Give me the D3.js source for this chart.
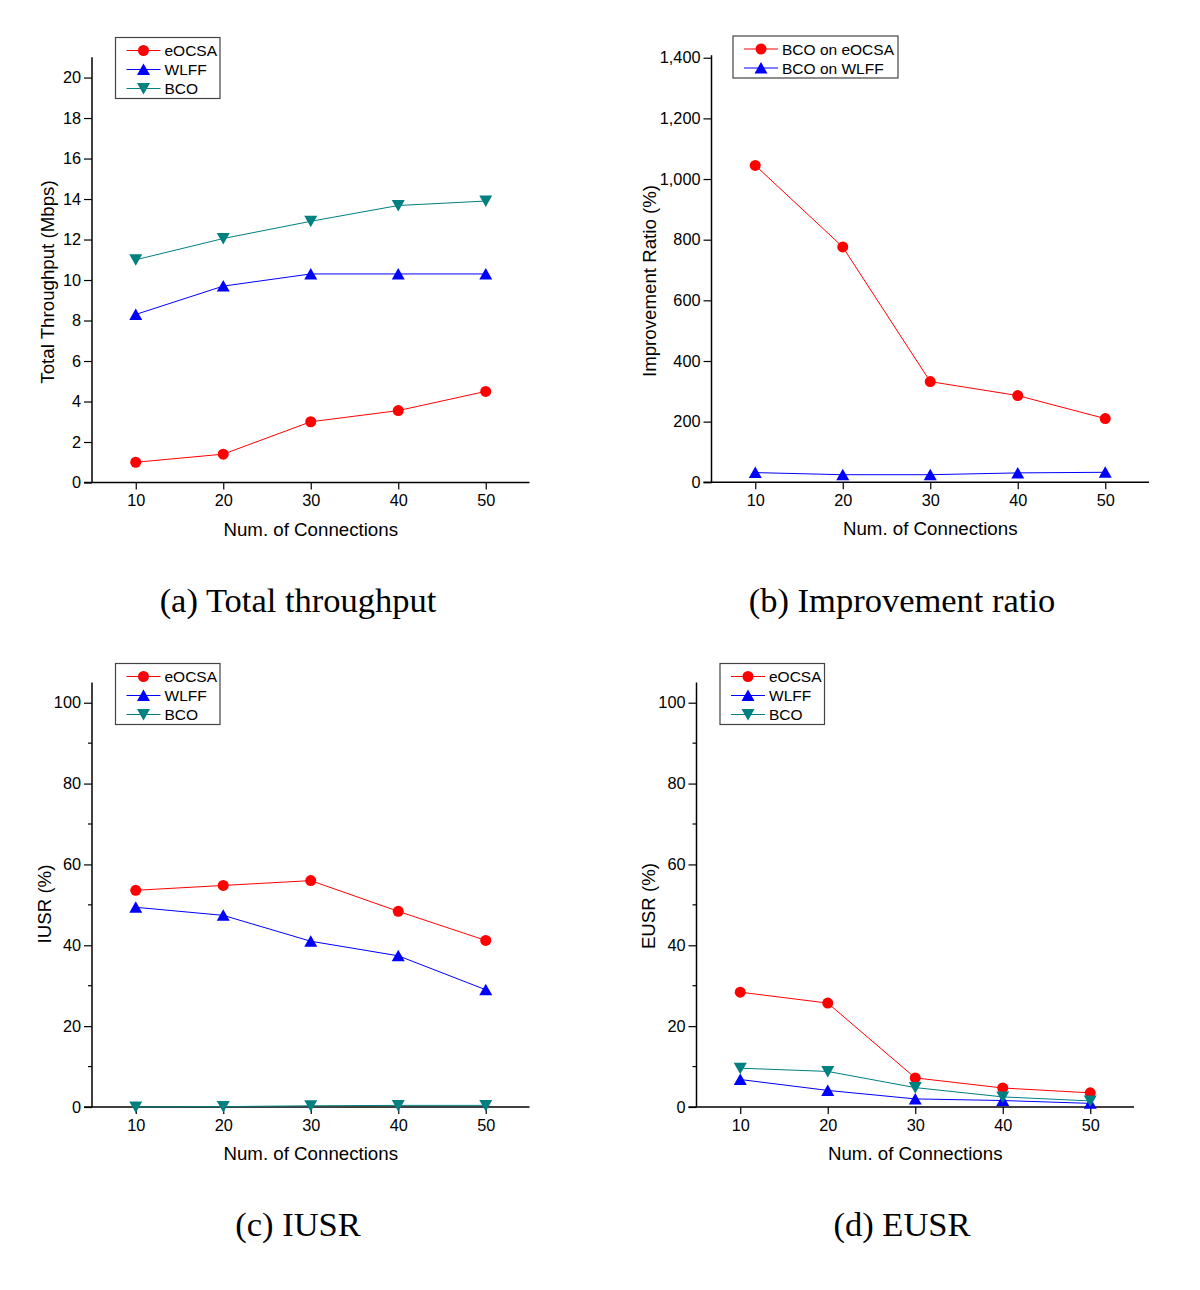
<!DOCTYPE html>
<html>
<head>
<meta charset="utf-8">
<script src="https://cdn.jsdelivr.net/npm/d3@7"></script>
<style>
  body { margin: 0; background: white; }
  text { font-family: Arial, "Liberation Sans", sans-serif; }
</style>
</head>
<body>
<main></main>
<script>
// connections on the x axis
const connections = [10, 20, 30, 40, 50]

// (a) total throughput, Mbps
const thrEocsa = [1.0, 1.4, 3.0, 3.55, 4.5]
const thrWlff = [8.3, 9.7, 10.3, 10.3, 10.3]
const thrBco = [11.0, 12.05, 12.9, 13.68, 13.9]

// (b) improvement ratio, %
const impOnEocsa = [1045, 776, 332, 286, 210]
const impOnWlff = [32, 25, 25, 31, 33]

// (c) IUSR, %
const iusrEocsa = [53.6, 54.8, 56.0, 48.4, 41.2]
const iusrWlff = [49.4, 47.4, 41.0, 37.4, 29.0]
const iusrBco = [0, 0.1, 0.3, 0.4, 0.4]

// (d) EUSR, %
const eusrEocsa = [28.4, 25.7, 7.2, 4.7, 3.5]
const eusrWlff = [6.8, 4.1, 2.0, 1.6, 0.9]
const eusrBco = [9.6, 8.8, 4.8, 2.5, 1.5]

const tickThr = [0, 2, 4, 6, 8, 10, 12, 14, 16, 18, 20]
const tickImp = [0, 200, 400, 600, 800, 1000, 1200, 1400]
const tickPct = [0, 20, 40, 60, 80, 100]
const minorPct = [10, 30, 50, 70, 90]

const RED = "#ff0000", BLUE = "#0000ff", TEAL = "#008080"

const svg = d3.select("main")
    .append("svg")
    .attr("width", 1200)
    .attr("height", 1290)
    .style("background-color", "white")

function marker(g, shape, color, cx, cy) {
    if (shape == "circle") {
        g.append("circle").attr("cx", cx).attr("cy", cy).attr("r", 5.5).attr("fill", color)
    } else {
        let s = shape == "up" ? 1 : -1
        let pts = [[cx - 6.5, cy + 5.5 * s], [cx + 6.5, cy + 5.5 * s], [cx, cy - 6 * s]]
        g.append("polygon").attr("points", pts.map(p => p.join(",")).join(" ")).attr("fill", color)
    }
}

function panel(opt) {
    let g = svg.append("g")

    let xScale = d3.scaleLinear().domain([5, 55]).range([opt.x0, opt.x0 + 437.5])
    let yScale = d3.scaleLinear().domain([0, opt.ymax]).range([opt.y0, opt.y0 - opt.ypx])

    let xAxis = g.append("g")
        .attr("transform", `translate(0, ${opt.y0})`)
        .call(d3.axisBottom(xScale).tickValues(connections).tickSize(7).tickPadding(5).tickSizeOuter(0))
    xAxis.select("path").remove()
    g.append("line")
        .attr("x1", opt.x0 - 8).attr("x2", xScale(55))
        .attr("y1", opt.y0).attr("y2", opt.y0)
        .attr("stroke", "black").attr("stroke-width", 1.5)

    let yAxis = g.append("g")
        .attr("transform", `translate(${opt.x0}, 0)`)
        .call(d3.axisLeft(yScale).tickValues(opt.ticks).tickFormat(d3.format(",")).tickSize(8).tickPadding(3).tickSizeOuter(0))
    yAxis.select("path").remove()
    g.append("line")
        .attr("x1", opt.x0).attr("x2", opt.x0)
        .attr("y1", opt.y0).attr("y2", yScale(opt.ymax))
        .attr("stroke", "black").attr("stroke-width", 1.5)
    if (opt.minor) {
        g.selectAll(".minor").data(opt.minor).enter()
            .append("line")
            .attr("x1", opt.x0 - 4).attr("x2", opt.x0)
            .attr("y1", d => yScale(d)).attr("y2", d => yScale(d))
            .attr("stroke", "black").attr("stroke-width", 1.2)
    }

    for (let ax of [xAxis, yAxis]) {
        ax.selectAll("line").attr("stroke", "black").attr("stroke-width", 1.2)
        ax.selectAll("text").attr("fill", "black").style("font-size", "16.3px").style("font-family", "Arial, 'Liberation Sans', sans-serif")
    }

    g.append("text")
        .attr("x", xScale(30)).attr("y", opt.y0 + 53)
        .attr("text-anchor", "middle")
        .style("font-size", "18.7px")
        .text("Num. of Connections")

    g.append("text")
        .attr("transform", `translate(${opt.ylabX}, ${opt.ylabY}) rotate(-90)`)
        .attr("text-anchor", "middle")
        .style("font-size", "18.7px")
        .text(opt.ylabel)

    let line = d3.line()
        .x((d, i) => xScale(connections[i]))
        .y(d => yScale(d))

    for (let s of opt.series) {
        g.append("path")
            .datum(s.values)
            .attr("d", line)
            .attr("fill", "none")
            .attr("stroke", s.color)
            .attr("stroke-width", 1)
        s.values.forEach((v, i) => marker(g, s.shape, s.color, xScale(connections[i]), yScale(v)))
    }

    // legend
    let lg = g.append("g")
    lg.append("rect")
        .attr("x", opt.leg[0]).attr("y", opt.leg[1])
        .attr("width", opt.leg[2]).attr("height", 19 * opt.series.length + 4)
        .attr("fill", "white").attr("stroke", "#444").attr("stroke-width", 1.2)
    opt.series.forEach((s, i) => {
        let ly = opt.leg[1] + 13 + i * 19
        let lx = opt.leg[0] + 11
        lg.append("line")
            .attr("x1", lx).attr("x2", lx + 34)
            .attr("y1", ly).attr("y2", ly)
            .attr("stroke", s.color).attr("stroke-width", 1)
        marker(lg, s.shape, s.color, lx + 17, ly)
        lg.append("text")
            .attr("x", lx + 38).attr("y", ly + 5.5)
            .style("font-size", "15.5px")
            .text(s.name)
    })

    svg.append("text")
        .attr("x", opt.capX).attr("y", opt.capY)
        .attr("text-anchor", "middle")
        .style("font-family", "'Times New Roman', 'Liberation Serif', serif")
        .style("font-size", "34.5px")
        .text(opt.caption)
}

panel({
    x0: 92, y0: 482.5, ypx: 425.2, ymax: 21, ticks: tickThr,
    ylabel: "Total Throughput (Mbps)", ylabX: 54, ylabY: 282,
    leg: [115.5, 37.5, 104.5],
    caption: "(a) Total throughput", capX: 298, capY: 612,
    series: [
        { name: "eOCSA", values: thrEocsa, color: RED, shape: "circle" },
        { name: "WLFF", values: thrWlff, color: BLUE, shape: "up" },
        { name: "BCO", values: thrBco, color: TEAL, shape: "down" }
    ]
})

panel({
    x0: 711.5, y0: 482.3, ypx: 427, ymax: 1408, ticks: tickImp,
    ylabel: "Improvement Ratio (%)", ylabX: 656, ylabY: 281,
    leg: [733, 36, 165],
    caption: "(b) Improvement ratio", capX: 902, capY: 612,
    series: [
        { name: "BCO on eOCSA", values: impOnEocsa, color: RED, shape: "circle" },
        { name: "BCO on WLFF", values: impOnWlff, color: BLUE, shape: "up" }
    ]
})

panel({
    x0: 92, y0: 1107, ypx: 424.5, ymax: 105, ticks: tickPct, minor: minorPct,
    ylabel: "IUSR (%)", ylabX: 51, ylabY: 904,
    leg: [115.5, 663.5, 104.5],
    caption: "(c) IUSR", capX: 298, capY: 1236,
    series: [
        { name: "eOCSA", values: iusrEocsa, color: RED, shape: "circle" },
        { name: "WLFF", values: iusrWlff, color: BLUE, shape: "up" },
        { name: "BCO", values: iusrBco, color: TEAL, shape: "down" }
    ]
})

panel({
    x0: 696.5, y0: 1107, ypx: 424.5, ymax: 105, ticks: tickPct, minor: minorPct,
    ylabel: "EUSR (%)", ylabX: 655, ylabY: 906,
    leg: [720, 663.5, 104.5],
    caption: "(d) EUSR", capX: 902, capY: 1236,
    series: [
        { name: "eOCSA", values: eusrEocsa, color: RED, shape: "circle" },
        { name: "WLFF", values: eusrWlff, color: BLUE, shape: "up" },
        { name: "BCO", values: eusrBco, color: TEAL, shape: "down" }
    ]
})
</script>
</body>
</html>
